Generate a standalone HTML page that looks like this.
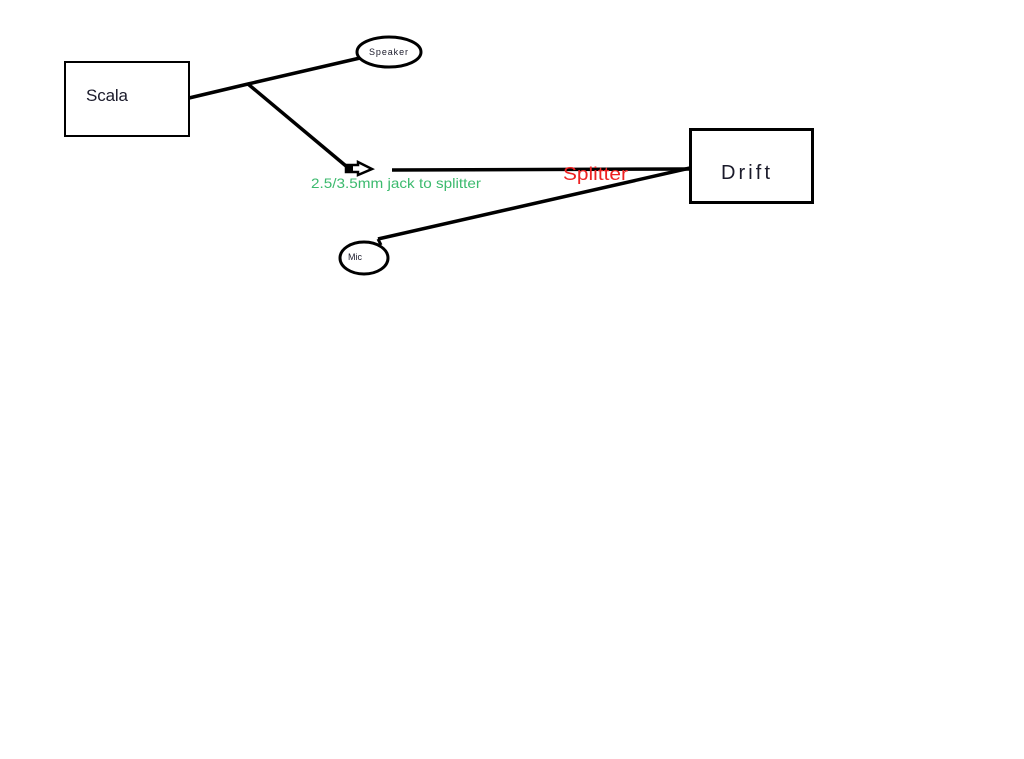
<!DOCTYPE html>
<html><head><meta charset="utf-8"><style>html,body{margin:0;padding:0;background:#fff;}svg{display:block}</style></head>
<body>
<svg width="1024" height="759" viewBox="0 0 1024 759" xmlns="http://www.w3.org/2000/svg">
<rect width="1024" height="759" fill="#fff"/>
<rect x="65" y="62" width="124" height="74" fill="none" stroke="#000" stroke-width="2"/>
<text x="86" y="101" font-family="Liberation Sans, sans-serif" font-size="17" fill="#1a1a2a" textLength="42">Scala</text>
<rect x="690.5" y="129.5" width="122" height="73" fill="none" stroke="#000" stroke-width="3"/>
<text x="721" y="179" font-family="Liberation Sans, sans-serif" font-size="20" fill="#1a1a2a" textLength="49">Drift</text>
<polyline points="189,98 248,84 360,58" fill="none" stroke="#000" stroke-width="3.5"/>
<line x1="248" y1="84" x2="346" y2="166" stroke="#000" stroke-width="3.5"/>
<path d="M346,165 L358,165 L358,162 L372,169 L358,175 L358,172 L346,172 Z" fill="#fff" stroke="#000" stroke-width="2.5"/>
<rect x="346" y="165" width="7" height="7" fill="#000"/>
<ellipse cx="389" cy="52" rx="32" ry="15" fill="#fff" stroke="#000" stroke-width="3"/>
<text x="369" y="55" font-family="Liberation Sans, sans-serif" font-size="9" fill="#1a1a2a" textLength="39">Speaker</text>
<line x1="392" y1="170" x2="690" y2="169" stroke="#000" stroke-width="3.5"/>
<line x1="690" y1="168" x2="378" y2="239" stroke="#000" stroke-width="3.5"/>
<path d="M378,239 L381,245" stroke="#000" stroke-width="3" fill="none"/>
<ellipse cx="364" cy="258" rx="24" ry="16" fill="#fff" stroke="#000" stroke-width="3"/>
<text x="348" y="260" font-family="Liberation Sans, sans-serif" font-size="9" fill="#1a1a2a">Mic</text>
<text x="311" y="188" font-family="Liberation Sans, sans-serif" font-size="14" fill="#3cba6e" textLength="170" lengthAdjust="spacingAndGlyphs">2.5/3.5mm jack to splitter</text>
<text x="563" y="180" font-family="Liberation Sans, sans-serif" font-size="18" fill="#ee2222" textLength="65" lengthAdjust="spacingAndGlyphs">Splitter</text>
</svg>
</body></html>
